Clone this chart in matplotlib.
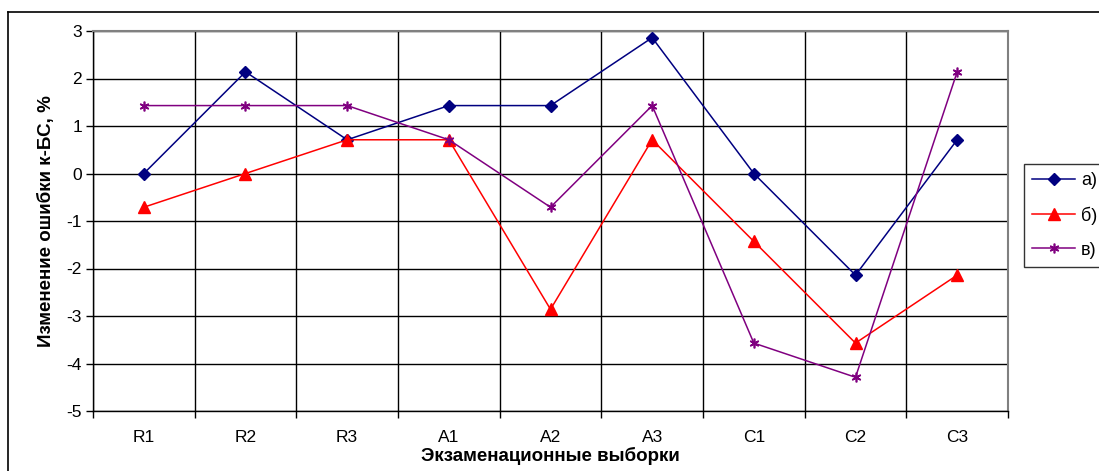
import matplotlib
matplotlib.use('Agg')
import matplotlib.pyplot as plt
from matplotlib.lines import Line2D

plt.rcParams['font.family'] = ['Liberation Sans', 'DejaVu Sans']

# data
samples = ['R1', 'R2', 'R3', 'A1', 'A2', 'A3', 'C1', 'C2', 'C3']
series_a = [0.0, 2.14, 0.71, 1.43, 1.43, 2.86, 0.0, -2.14, 0.71]
series_b = [-0.71, 0.0, 0.71, 0.71, -2.86, 0.71, -1.43, -3.57, -2.14]
series_v = [1.43, 1.43, 1.43, 0.71, -0.71, 1.43, -3.57, -4.29, 2.14]
yticks = [3, 2, 1, 0, -1, -2, -3, -4, -5]

W, H = 1099, 471
fig = plt.figure(figsize=(W / 100, H / 100), dpi=100, facecolor='white')
ax = fig.add_axes([93 / W, 1 - 411 / H, (1008 - 93) / W, (411 - 31) / H])

x = list(range(len(samples)))
ax.plot(x, series_a, color='#000080', lw=1.1, marker='D', ms=6, label='а)')
ax.plot(x, series_b, color='#FF0000', lw=1.1, marker='^', ms=8, label='б)')
ax.plot(x, series_v, color='#800080', lw=1.1, marker=(6, 2, 0), ms=7,
        mew=1.2, label='в)')

ax.set_xlim(-0.5, len(samples) - 0.5)
ax.set_ylim(-5, 3)
ax.set_yticks(yticks)
ax.set_yticklabels([str(t) for t in yticks], fontsize=12.5)

# category labels centred, ticks/grid between categories
ax.set_xticks(x)
ax.set_xticklabels(samples, fontsize=12.5)
ax.tick_params(axis='x', length=0, pad=14)
ax.set_xticks([i + 0.5 for i in range(-1, len(samples))], minor=True)
ax.tick_params(axis='x', which='minor', length=5, width=1, direction='out')
ax.tick_params(axis='y', length=5, width=1, direction='out', pad=3)

ax.grid(True, axis='y', color='black', lw=1)
ax.grid(True, axis='x', which='minor', color='black', lw=1)
ax.set_axisbelow(True)

for s in ['top', 'right']:
    ax.spines[s].set_color('#808080')
    ax.spines[s].set_linewidth(1.5)
for s in ['left', 'bottom']:
    ax.spines[s].set_color('black')
    ax.spines[s].set_linewidth(1)

ax.set_ylabel('Изменение ошибки к-БС, %', fontsize=13.5, fontweight='bold', labelpad=8)
ax.set_xlabel('Экзаменационные выборки', fontsize=13.5, fontweight='bold', labelpad=1)

leg = fig.legend(loc='upper left', bbox_to_anchor=(1024 / W, 1 - 164 / H),
                 fontsize=13, frameon=True, fancybox=False, edgecolor='black',
                 handlelength=2.4, borderpad=0.45, labelspacing=0.95,
                 handletextpad=0.3, borderaxespad=0)
leg.get_frame().set_linewidth(1)

# outer chart frame
fig.add_artist(Line2D([8 / W, 8 / W], [0, 1 - 12 / H], transform=fig.transFigure,
                      color='black', lw=1.2))
fig.add_artist(Line2D([8 / W, 1], [1 - 12 / H, 1 - 12 / H], transform=fig.transFigure,
                      color='black', lw=1.2))

fig.savefig('out.png', dpi=100)
